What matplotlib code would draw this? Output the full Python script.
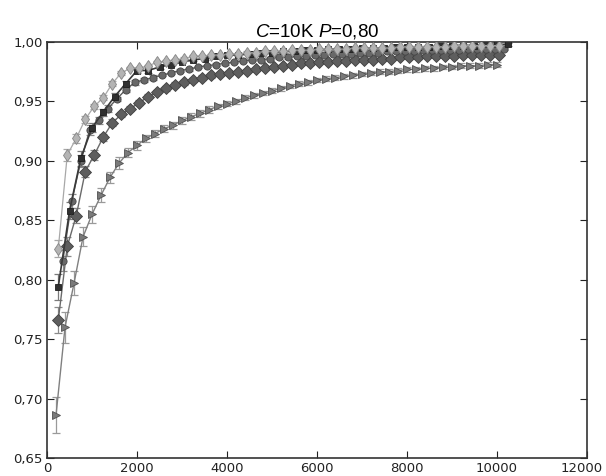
import matplotlib
matplotlib.use("Agg")
import matplotlib.pyplot as plt
from matplotlib.ticker import FuncFormatter
from matplotlib.transforms import ScaledTranslation

plt.rcParams['mathtext.fontset'] = 'custom'
plt.rcParams['mathtext.rm'] = 'Liberation Sans'
plt.rcParams['mathtext.it'] = 'Liberation Sans:italic'

#--------------- Dados --------------------------------------
x_tri = list(range(200, 10001, 200))
y_tri = [0.686, 0.760, 0.797, 0.836, 0.855, 0.871, 0.886, 0.898, 0.907, 0.913,
         0.919, 0.923, 0.927, 0.930, 0.934, 0.937, 0.940, 0.943, 0.946, 0.948,
         0.950, 0.953, 0.955, 0.957, 0.959, 0.961, 0.963, 0.965, 0.966, 0.968,
         0.969, 0.970, 0.971, 0.972, 0.973, 0.974, 0.975, 0.975, 0.976, 0.977,
         0.977, 0.978, 0.978, 0.979, 0.979, 0.980, 0.980, 0.980, 0.981, 0.981]
e_tri = [0.015, 0.013, 0.010, 0.008, 0.007, 0.006, 0.005, 0.005, 0.004, 0.004,
         0.003, 0.003, 0.003, 0.003, 0.003, 0.003, 0.003, 0.003, 0.002, 0.002,
         0.002, 0.002, 0.002, 0.002, 0.002, 0.002, 0.002, 0.002, 0.002, 0.002,
         0.002, 0.002, 0.002, 0.002, 0.002, 0.002, 0.002, 0.002, 0.002, 0.002,
         0.002, 0.002, 0.002, 0.002, 0.002, 0.002, 0.002, 0.002, 0.002, 0.002]

x_dia = list(range(250, 10051, 200))
y_dia = [0.766, 0.828, 0.854, 0.891, 0.905, 0.920, 0.932, 0.939, 0.944, 0.949,
         0.954, 0.958, 0.961, 0.964, 0.966, 0.968, 0.970, 0.972, 0.973, 0.974,
         0.975, 0.976, 0.977, 0.978, 0.979, 0.980, 0.981, 0.982, 0.982, 0.983,
         0.983, 0.984, 0.984, 0.985, 0.985, 0.985, 0.986, 0.986, 0.987, 0.987,
         0.987, 0.988, 0.988, 0.988, 0.988, 0.989, 0.989, 0.989, 0.989, 0.989]
e_dia = [0.011, 0.008, 0.006, 0.005, 0.004, 0.003, 0.003, 0.002, 0.002, 0.002,
         0.002, 0.002, 0.002, 0.002, 0.002, 0.002, 0.002, 0.002, 0.002, 0.002,
         0.001, 0.001, 0.001, 0.001, 0.001, 0.001, 0.001, 0.001, 0.001, 0.001,
         0.001, 0.001, 0.001, 0.001, 0.001, 0.001, 0.001, 0.001, 0.001, 0.001,
         0.001, 0.001, 0.001, 0.001, 0.001, 0.001, 0.001, 0.001, 0.001, 0.001]

x_circ = list(range(350, 10151, 200))
y_circ = [0.816, 0.866, 0.900, 0.926, 0.934, 0.944, 0.952, 0.960, 0.966, 0.968,
          0.970, 0.972, 0.974, 0.976, 0.977, 0.979, 0.980, 0.981, 0.982, 0.983,
          0.984, 0.985, 0.985, 0.986, 0.987, 0.987, 0.988, 0.988, 0.989, 0.989,
          0.990, 0.990, 0.990, 0.991, 0.991, 0.991, 0.992, 0.992, 0.992, 0.992,
          0.993, 0.993, 0.993, 0.993, 0.993, 0.994, 0.994, 0.994, 0.994, 0.994]
e_circ = [0.009, 0.006, 0.005, 0.004, 0.003, 0.003, 0.002, 0.002, 0.002, 0.002,
          0.002, 0.001, 0.001, 0.001, 0.001, 0.001, 0.001, 0.001, 0.001, 0.001,
          0.001, 0.001, 0.001, 0.001, 0.001, 0.001, 0.001, 0.001, 0.001, 0.001,
          0.001, 0.001, 0.001, 0.001, 0.001, 0.001, 0.001, 0.001, 0.001, 0.001,
          0.001, 0.001, 0.001, 0.001, 0.001, 0.001, 0.001, 0.001, 0.001, 0.001]

x_sq = list(range(250, 10251, 250))
y_sq = [0.794, 0.858, 0.902, 0.928, 0.941, 0.954, 0.965, 0.976, 0.976, 0.979,
        0.981, 0.983, 0.985, 0.986, 0.988, 0.989, 0.989, 0.990, 0.991, 0.991,
        0.992, 0.992, 0.993, 0.993, 0.994, 0.994, 0.994, 0.995, 0.995, 0.995,
        0.996, 0.996, 0.996, 0.996, 0.997, 0.997, 0.997, 0.997, 0.998, 0.998,
        0.998]
e_sq = [0.011, 0.007, 0.006, 0.004, 0.003, 0.003, 0.002, 0.002, 0.002, 0.002,
        0.001, 0.001, 0.001, 0.001, 0.001, 0.001, 0.001, 0.001, 0.001, 0.001,
        0.001, 0.001, 0.001, 0.001, 0.001, 0.001, 0.001, 0.001, 0.001, 0.001,
        0.001, 0.001, 0.001, 0.001, 0.001, 0.001, 0.001, 0.001, 0.001, 0.001,
        0.001]

x_ld = list(range(250, 10051, 200))
y_ld = [0.826, 0.905, 0.919, 0.935, 0.946, 0.953, 0.965, 0.974, 0.978, 0.978,
        0.980, 0.983, 0.984, 0.985, 0.986, 0.988, 0.988, 0.989, 0.989, 0.990,
        0.990, 0.991, 0.991, 0.992, 0.992, 0.992, 0.993, 0.993, 0.993, 0.994,
        0.994, 0.994, 0.994, 0.995, 0.995, 0.995, 0.995, 0.995, 0.996, 0.996,
        0.996, 0.996, 0.996, 0.996, 0.997, 0.997, 0.997, 0.997, 0.997, 0.997]
e_ld = [0.007, 0.005, 0.004, 0.003, 0.002, 0.002, 0.002, 0.002, 0.001, 0.001,
        0.001, 0.001, 0.001, 0.001, 0.001, 0.001, 0.001, 0.001, 0.001, 0.001,
        0.001, 0.001, 0.001, 0.001, 0.001, 0.001, 0.001, 0.001, 0.001, 0.001,
        0.001, 0.001, 0.001, 0.001, 0.001, 0.001, 0.001, 0.001, 0.001, 0.001,
        0.001, 0.001, 0.001, 0.001, 0.001, 0.001, 0.001, 0.001, 0.001, 0.001]

x_ticks = [0, 2000, 4000, 6000, 8000, 10000, 12000]
y_ticks = [0.65, 0.70, 0.75, 0.80, 0.85, 0.90, 0.95, 1.00]

#--------------- Figura --------------------------
fig = plt.figure(figsize=(6.06, 4.76), dpi=100)
ax = fig.add_axes([0.0776, 0.0378, 0.891, 0.874])

series = [
    (x_tri, y_tri, e_tri, '>', 5.8, '#7a7a7a', '#505050', '#808080', 1.0, '#9a9a9a'),
    (x_dia, y_dia, e_dia, 'D', 5.8, '#5e5e5e', '#404040', '#6a6a6a', 1.0, '#8a8a8a'),
    (x_circ, y_circ, e_circ, 'o', 5.2, '#686868', '#454545', '#5a5a5a', 1.0, '#8a8a8a'),
    (x_sq, y_sq, e_sq, 's', 4.6, '#303030', '#1e1e1e', '#3a3a3a', 1.2, '#7a7a7a'),
    (x_ld, y_ld, e_ld, 'd', 6.0, '#b4b4b4', '#858585', '#a8a8a8', 0.9, '#a8a8a8'),
]

for x, y, e, mk, ms, fc, ec, lc, lw, errc in series:
    ax.errorbar(x, y, yerr=e, fmt='none', ecolor=errc, elinewidth=0.9,
                capsize=3, capthick=0.9, zorder=2)
    ax.plot(x, y, color=lc, linewidth=lw, marker=mk, markersize=ms,
            markerfacecolor=fc, markeredgecolor=ec, markeredgewidth=0.6,
            zorder=3)

ax.set_xlim(0, 12000)
ax.set_ylim(0.65, 1.00)
ax.set_xticks(x_ticks)
ax.set_yticks(y_ticks)
ax.yaxis.set_major_formatter(FuncFormatter(lambda v, p: f"{v:.2f}".replace('.', ',')))
ax.xaxis.set_major_formatter(FuncFormatter(lambda v, p: f"{int(v)}"))
ax.tick_params(direction='in', top=True, right=True, length=5, width=0.8,
               labelsize=9.5, colors='#222222', pad=3)
for s in ax.spines.values():
    s.set_color('#333333')
    s.set_linewidth(1.2)

# dernier label un peu décalé pour rester dans l'image
last = ax.get_xticklabels()[-1]
last.set_transform(last.get_transform() + ScaledTranslation(-4 / 72, 0, fig.dpi_scale_trans))

ax.set_title(r'$C$=10K $P$=0,80', fontsize=13.5, family='Liberation Sans', pad=4)

fig.savefig('out.png', dpi=100)
